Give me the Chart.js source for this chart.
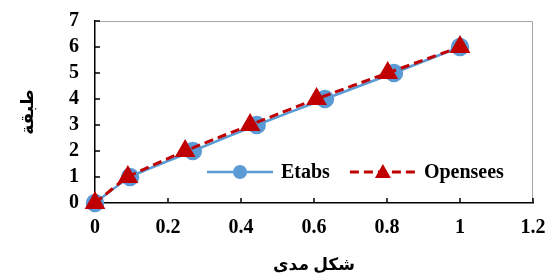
<!DOCTYPE html>
<html>
<head>
<meta charset="utf-8">
<script src="https://cdn.jsdelivr.net/npm/chart.js@4"></script>
<style>
  body { margin: 0; background: #fff; }
  #wrap { width: 550px; height: 276px; }
</style>
</head>
<body>
<div id="wrap"><canvas id="modeChart" width="550" height="276"></canvas></div>
<script>
// Floor numbers and mode shape values
const floors = [0, 1, 2, 3, 4, 5, 6];
const etabsShape = [0, 0.096, 0.268, 0.443, 0.630, 0.819, 1.0];
const openseesShape = [0, 0.090, 0.247, 0.425, 0.607, 0.802, 1.0];
const seriesNames = ['Etabs', 'Opensees'];
const xTitle = 'شکل مدی';
const yTitle = 'طبقة';

const serif = "'Liberation Serif', 'Times New Roman', 'DejaVu Sans', serif";
const blue = '#5B9BD5';
const red = '#C00000';

function toPoints(xs) {
    return xs.map(function(v, i) { return { x: v, y: floors[i] }; });
}

// Gray frame on top/right and inner tick marks
const framePlugin = {
    id: 'frame',
    beforeDatasetsDraw: function(chart) {
        const a = chart.chartArea;
        const ctx = chart.ctx;
        ctx.save();
        ctx.strokeStyle = '#a6a6a6';
        ctx.lineWidth = 1;
        ctx.beginPath();
        ctx.moveTo(a.left, a.top + 0.5);
        ctx.lineTo(a.right - 0.5, a.top + 0.5);
        ctx.lineTo(a.right - 0.5, a.bottom);
        ctx.stroke();

        ctx.strokeStyle = '#000';
        ctx.lineWidth = 1.5;
        const xs = chart.scales.x, ys = chart.scales.y;
        ctx.beginPath();
        xs.ticks.forEach(function(t) {
            const px = xs.getPixelForValue(t.value);
            ctx.moveTo(px, a.bottom);
            ctx.lineTo(px, a.bottom - 5);
        });
        ys.ticks.forEach(function(t) {
            const py = ys.getPixelForValue(t.value);
            ctx.moveTo(a.left, py);
            ctx.lineTo(a.left + 5, py);
        });
        ctx.stroke();
        ctx.restore();
    }
};

// Legend drawn inside the plot area, bottom right
const innerLegend = {
    id: 'innerLegend',
    afterDraw: function(chart) {
        const ctx = chart.ctx;
        const a = chart.chartArea;
        const y = a.bottom - 31;
        let x = a.left + 112;
        ctx.save();
        ctx.font = 'bold 20px ' + serif;
        ctx.textBaseline = 'middle';
        chart.data.datasets.forEach(function(ds, i) {
            ctx.strokeStyle = ds.borderColor;
            ctx.lineWidth = ds.borderWidth;
            ctx.setLineDash(ds.borderDash || []);
            ctx.beginPath();
            ctx.moveTo(x, y);
            ctx.lineTo(x + 66, y);
            ctx.stroke();
            ctx.setLineDash([]);
            ctx.fillStyle = ds.pointBackgroundColor;
            ctx.beginPath();
            if (ds.pointStyle === 'triangle') {
                ctx.moveTo(x + 33, y - 8);
                ctx.lineTo(x + 41, y + 6);
                ctx.lineTo(x + 25, y + 6);
                ctx.closePath();
            } else {
                ctx.arc(x + 33, y, 7, 0, Math.PI * 2);
            }
            ctx.fill();
            ctx.fillStyle = '#000';
            ctx.textAlign = 'left';
            ctx.fillText(ds.label, x + 74, y + 1);
            x += 74 + ctx.measureText(ds.label).width + 20;
        });
        ctx.restore();
    }
};

const ctxMode = document.getElementById('modeChart').getContext('2d');
const modeChart = new Chart(ctxMode, {
    type: 'line',
    data: {
        datasets: [{
            label: seriesNames[0],
            data: toPoints(etabsShape),
            borderColor: blue,
            backgroundColor: blue,
            pointBackgroundColor: blue,
            pointBorderColor: blue,
            pointStyle: 'circle',
            pointRadius: 8,
            borderWidth: 2.5,
            tension: 0.15,
            clip: false,
            fill: false,
            order: 2
        }, {
            label: seriesNames[1],
            data: toPoints(openseesShape),
            borderColor: red,
            backgroundColor: red,
            pointBackgroundColor: red,
            pointBorderColor: red,
            pointStyle: 'triangle',
            pointRadius: 9,
            borderWidth: 3,
            borderDash: [9, 5],
            tension: 0.15,
            clip: false,
            fill: false,
            order: 1
        }]
    },
    options: {
        responsive: false,
        animation: false,
        layout: { padding: { top: 21, right: 17, left: 18, bottom: 0 } },
        plugins: {
            legend: { display: false },
            tooltip: { enabled: false }
        },
        scales: {
            x: {
                type: 'linear',
                min: 0,
                max: 1.2,
                afterFit: function(scale) { scale.height = 73; },
                grid: { drawOnChartArea: false, drawTicks: true, tickLength: 13, tickColor: 'rgba(0,0,0,0)' },
                border: { color: '#000', width: 1.5 },
                ticks: {
                    stepSize: 0.2,
                    autoSkip: false,
                    maxRotation: 0,
                    padding: 0,
                    color: '#000',
                    font: { family: serif, size: 20, weight: 'bold' },
                    callback: function(v) { return Math.round(v * 10) / 10; }
                },
                title: {
                    display: true,
                    text: xTitle,
                    color: '#000',
                    font: { family: serif, size: 17, weight: 'bold' },
                    padding: { top: 8, bottom: 0 }
                }
            },
            y: {
                type: 'linear',
                min: 0,
                max: 7,
                afterFit: function(scale) { scale.width = 77; },
                grid: { drawOnChartArea: false, drawTicks: true, tickLength: 16, tickColor: 'rgba(0,0,0,0)' },
                border: { color: '#000', width: 1.5 },
                ticks: {
                    stepSize: 1,
                    autoSkip: false,
                    padding: 0,
                    color: '#000',
                    font: { family: serif, size: 20, weight: 'bold' }
                },
                title: {
                    display: true,
                    text: yTitle,
                    color: '#000',
                    font: { family: serif, size: 17, weight: 'bold' },
                    padding: { top: 0, bottom: 0 }
                }
            }
        }
    },
    plugins: [framePlugin, innerLegend]
});
</script>
</body>
</html>
